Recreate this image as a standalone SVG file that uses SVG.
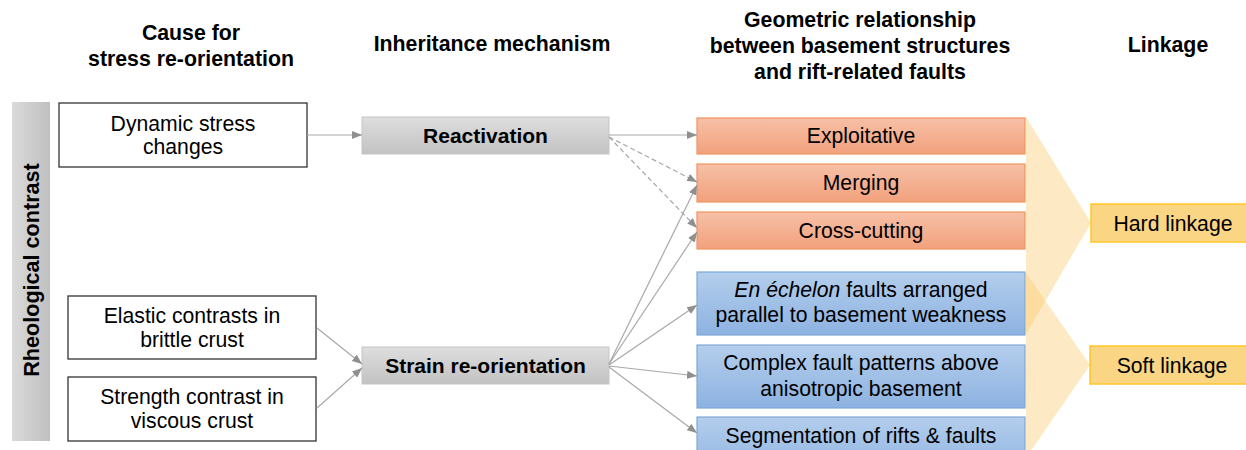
<svg xmlns="http://www.w3.org/2000/svg" width="1246" height="450" viewBox="0 0 1246 450">
<defs>
<linearGradient id="gGray" x1="0" y1="0" x2="0" y2="1"><stop offset="0" stop-color="#DEDEDE"/><stop offset="1" stop-color="#C2C2C2"/></linearGradient>
<linearGradient id="gBar" x1="0" y1="0" x2="1" y2="0"><stop offset="0" stop-color="#DADADA"/><stop offset="1" stop-color="#C0C0C0"/></linearGradient>
<linearGradient id="gOrange" x1="0" y1="0" x2="0" y2="1"><stop offset="0" stop-color="#F7C0A7"/><stop offset="1" stop-color="#F2A17C"/></linearGradient>
<linearGradient id="gBlue" x1="0" y1="0" x2="0" y2="1"><stop offset="0" stop-color="#B4CEEC"/><stop offset="1" stop-color="#8DB2E1"/></linearGradient>
<marker id="ah" viewBox="0 0 10 8" refX="10" refY="4" markerWidth="10" markerHeight="8" markerUnits="userSpaceOnUse" orient="auto"><path d="M0,0 L10,4 L0,8 Z" fill="#8F8F8F"/></marker>
<style>
.hdr{font-family:"Liberation Sans",Arial,sans-serif;font-weight:bold;font-size:21.3px;fill:#000;text-anchor:middle}
.t{font-family:"Liberation Sans",Arial,sans-serif;font-size:21.2px;fill:#000;text-anchor:middle}
.tb{font-family:"Liberation Sans",Arial,sans-serif;font-size:21px;font-weight:bold;fill:#000;text-anchor:middle}
.wbox{fill:#fff;stroke:#333;stroke-width:1.3}
.gbox{fill:url(#gGray);stroke:#C6C6C6;stroke-width:1}
.obox{fill:url(#gOrange);stroke:#EF9462;stroke-width:1.2}
.bbox{fill:url(#gBlue);stroke:#7EA7D9;stroke-width:1.2}
.ybox{fill:#FAD584;stroke:#FFC629;stroke-width:1.5}
.chev{fill:#F9C86A;fill-opacity:0.4}
.c{stroke:#A8A8A8;stroke-width:1.2;fill:none;marker-end:url(#ah)}
.d{stroke:#A8A8A8;stroke-width:1.2;fill:none;stroke-dasharray:5 3;marker-end:url(#ah)}
</style>
</defs>
<rect width="1246" height="450" fill="#fff"/>
<g id="headers">
<text class="hdr" x="191" y="40">Cause for</text>
<text class="hdr" x="191" y="66">stress re-orientation</text>
<text class="hdr" x="492" y="51">Inheritance mechanism</text>
<text class="hdr" x="860" y="27">Geometric relationship</text>
<text class="hdr" x="860" y="53">between basement structures</text>
<text class="hdr" x="860" y="79">and rift-related faults</text>
<text class="hdr" x="1168" y="52">Linkage</text>
</g>
<g id="chevrons">
<polygon class="chev" points="1026,117 1091,223 1026,334"/>
<polygon class="chev" points="1026,273 1090,365 1026,458"/>
</g>
<g id="rheological">
<rect x="12" y="102" width="38" height="339" fill="url(#gBar)"/>
<text class="tb" transform="translate(39,270) rotate(-90)" style="font-size:21.6px">Rheological contrast</text>
</g>
<g id="dynamic"><rect class="wbox" x="59" y="103" width="248" height="64"/><text class="t" x="183" y="131">Dynamic stress</text><text class="t" x="183" y="154">changes</text></g>
<g id="elastic"><rect class="wbox" x="68" y="296" width="248" height="63"/><text class="t" x="192" y="323">Elastic contrasts in</text><text class="t" x="192" y="347">brittle crust</text></g>
<g id="strength"><rect class="wbox" x="68" y="377" width="248" height="64"/><text class="t" x="192" y="404">Strength contrast in</text><text class="t" x="192" y="428">viscous crust</text></g>
<g id="reactivation"><rect class="gbox" x="362" y="117" width="247" height="37"/><text class="tb" x="485.5" y="143">Reactivation</text></g>
<g id="strain"><rect class="gbox" x="362" y="347" width="247" height="37"/><text class="tb" x="485.5" y="373">Strain re-orientation</text></g>
<g id="exploitative"><rect class="obox" x="697" y="118" width="328" height="36"/><text class="t" x="861" y="143">Exploitative</text></g>
<g id="merging"><rect class="obox" x="697" y="164" width="328" height="38"/><text class="t" x="861" y="190">Merging</text></g>
<g id="crosscutting"><rect class="obox" x="697" y="212" width="328" height="37"/><text class="t" x="861" y="238">Cross-cutting</text></g>
<g id="enechelon"><rect class="bbox" x="697" y="272" width="328" height="63"/><text class="t" x="861" y="297"><tspan font-style="italic">En échelon</tspan> faults arranged</text><text class="t" x="861" y="322">parallel to basement weakness</text></g>
<g id="complex"><rect class="bbox" x="697" y="345" width="328" height="63"/><text class="t" x="861" y="370">Complex fault patterns above</text><text class="t" x="861" y="396">anisotropic basement</text></g>
<g id="segmentation"><rect class="bbox" x="697" y="417" width="328" height="60"/><text class="t" x="861" y="443">Segmentation of rifts &amp; faults</text></g>
<g id="hard"><rect class="ybox" x="1091" y="204" width="165" height="38"/><text class="t" x="1173" y="231">Hard linkage</text></g>
<g id="soft"><rect class="ybox" x="1090" y="346" width="166" height="38"/><text class="t" x="1172" y="373">Soft linkage</text></g>
<g id="connectors">
<line class="c" x1="307" y1="135" x2="362" y2="135"/>
<line class="c" x1="609" y1="135" x2="697" y2="135"/>
<line class="d" x1="609" y1="137" x2="697" y2="182"/>
<line class="d" x1="609" y1="137" x2="697" y2="228"/>
<line class="c" x1="317" y1="328" x2="362" y2="364"/>
<line class="c" x1="317" y1="408" x2="362" y2="368"/>
<line class="c" x1="609" y1="364" x2="697" y2="185"/>
<line class="c" x1="609" y1="364" x2="697" y2="232"/>
<line class="c" x1="609" y1="365" x2="697" y2="305"/>
<line class="c" x1="609" y1="366" x2="697" y2="376"/>
<line class="c" x1="609" y1="367" x2="697" y2="433"/>
</g>
</svg>
